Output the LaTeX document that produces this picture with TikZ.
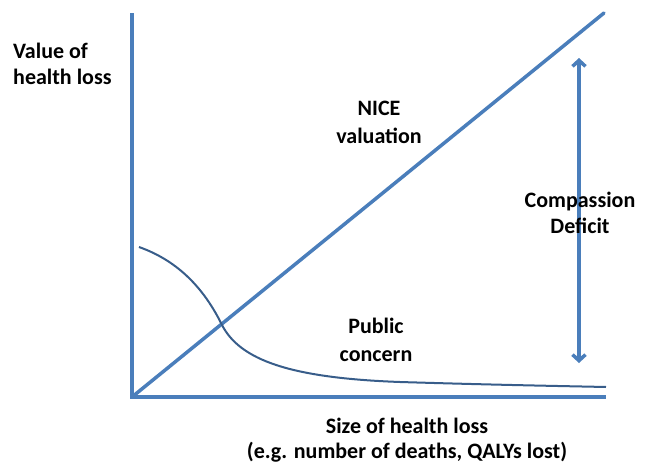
\documentclass[tikz,border=0pt]{standalone}
\usepackage{fontspec}
\setmainfont{Carlito}
\usetikzlibrary{arrows.meta}
\definecolor{axisblue}{RGB}{74,126,187}
\definecolor{curveblue}{RGB}{56,93,138}
\tikzset{
  axisline/.style={draw=axisblue, line width=3.5pt},
  curveline/.style={draw=curveblue, line width=2pt},
  lbl/.style={inner sep=0pt, font=\fontsize{22}{27}\selectfont\bfseries, text=black},
}
\begin{document}
\begin{tikzpicture}[x=1pt,y=-1pt]
\useasboundingbox (0,0) rectangle (649,464);
% axes
\coordinate (origin) at (132,397);
\coordinate (ytop) at (132,13);
\coordinate (xend) at (606,397);
\coordinate (nicetop) at (604,13);
\coordinate (arrtop) at (579,58);
\coordinate (arrbot) at (579,363);
\draw[axisline] (ytop) -- (origin) -- (xend);
\draw[axisline, line cap=round] (origin) -- (nicetop);
\draw[axisline, {Straight Barb[length=6pt,width=13pt]}-{Straight Barb[length=6pt,width=13pt]}] (arrbot) -- (arrtop);
% public concern curve
\coordinate (c0) at (139,247);
\coordinate (c1) at (222,325);
\coordinate (c2) at (400,382);
\coordinate (c3) at (606,387);
\draw[curveline] (c0) .. controls (170,258) and (200,280) .. (c1)
  .. controls (240,360) and (290,378) .. (c2)
  .. controls (500,385) and (560,386) .. (c3);
% labels
\node[lbl, anchor=base west] (v1) at (13,58) {Value of};
\node[lbl, anchor=base west] (v2) at (13,84) {health loss};
\node[lbl, anchor=base] (n1) at (379,115) {NICE};
\node[lbl, anchor=base] (n2) at (379,143) {valuation};
\node[lbl, anchor=base] (d1) at (580,207) {Compassion};
\node[lbl, anchor=base] (d2) at (580,233) {Deficit};
\node[lbl, anchor=base] (p1) at (376,333) {Public};
\node[lbl, anchor=base] (p2) at (376,361) {concern};
\node[lbl, anchor=base] (s1) at (407,433) {Size of health loss};
\node[lbl, anchor=base] (s2) at (407,458) {(e.g. number of deaths, QALYs lost)};
\end{tikzpicture}
\end{document}
